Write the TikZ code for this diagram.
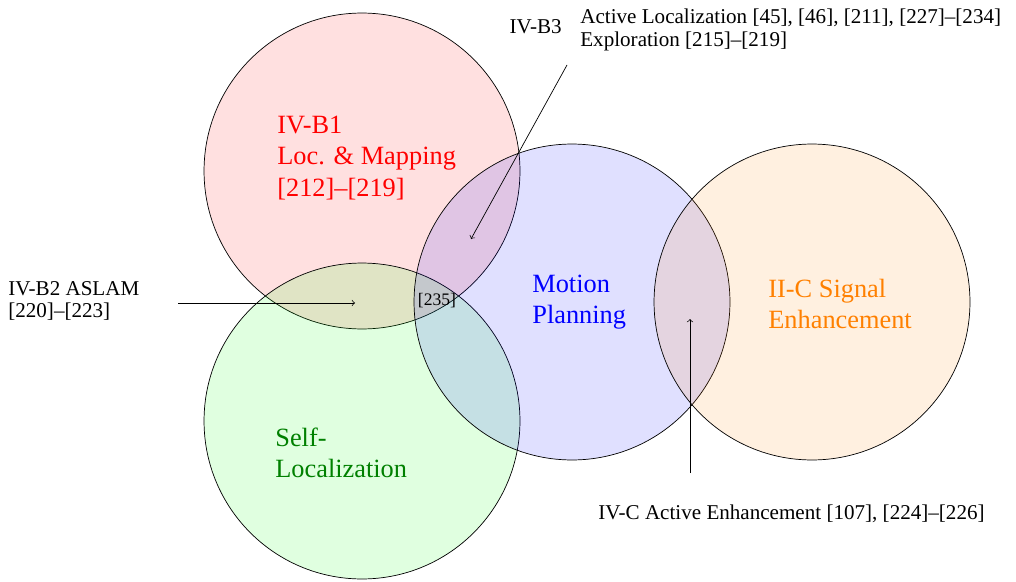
\documentclass[tikz,border=0pt]{standalone}
\usepackage{fontspec}
\setmainfont{Liberation Serif}
\usepackage{tikz}
\usetikzlibrary{shapes,shapes.misc}

\begin{document}
\begin{tikzpicture}[x=0.02cm,y=-0.02cm,
  every circle node/.append style={draw=black,minimum size=6.32cm,fill opacity=0.12,text opacity=1}]
  \tikzstyle{area} = [font=\fontsize{15}{18}\selectfont,align=left,anchor=west,inner sep=0pt]
  \tikzstyle{note} = [font=\fontsize{12}{13}\selectfont,color=black,align=left,inner sep=0pt]
  \useasboundingbox (0,0) rectangle (1016,581);
  \node (loc) [circle,fill=red] at (362,171) {};
  \node (self) [circle,fill=green] at (362,421) {};
  \node (plan) [circle,fill=blue] at (572,302) {};
  \node (sig) [circle,fill=orange] at (812,302) {};
  \node (loc_t) [area,text=red] at (277,158) {IV-B1\\Loc. \& Mapping\\{[212]--[219]}};
  \node (self_t) [area,text=green!50!black] at (275,453) {Self-\\Localization};
  \node (plan_t) [area,text=blue] at (532,302) {Motion\\Planning};
  \node (sig_t) [area,text=orange] at (768,304) {II-C Signal\\Enhancement};
  \node (both) [font=\fontsize{10}{12}\selectfont,inner sep=0pt] at (437,301) {[235]};
  \node (b3) [note,anchor=east] at (562,27) {IV-B3};
  \node (b3_t) [note,anchor=west] at (580,30) {Active Localization [45], [46], [211], [227]--[234]\\Exploration [215]--[219]};
  \node (b2_t) [note,anchor=west] at (8,301) {IV-B2 ASLAM\\{[220]--[223]}};
  \node (c_t) [note,anchor=west] at (598,514) {IV-C Active Enhancement [107], [224]--[226]};
  \coordinate (b3_from) at (567,65);
  \coordinate (b3_to) at (471,239);
  \coordinate (b2_from) at (178,303);
  \coordinate (b2_to) at (355,303);
  \coordinate (c_from) at (690,473);
  \coordinate (c_to) at (690,319);
  \draw [->] (b3_from) -- (b3_to);
  \draw [->] (b2_from) -- (b2_to);
  \draw [->] (c_from) -- (c_to);
\end{tikzpicture}
\end{document}
